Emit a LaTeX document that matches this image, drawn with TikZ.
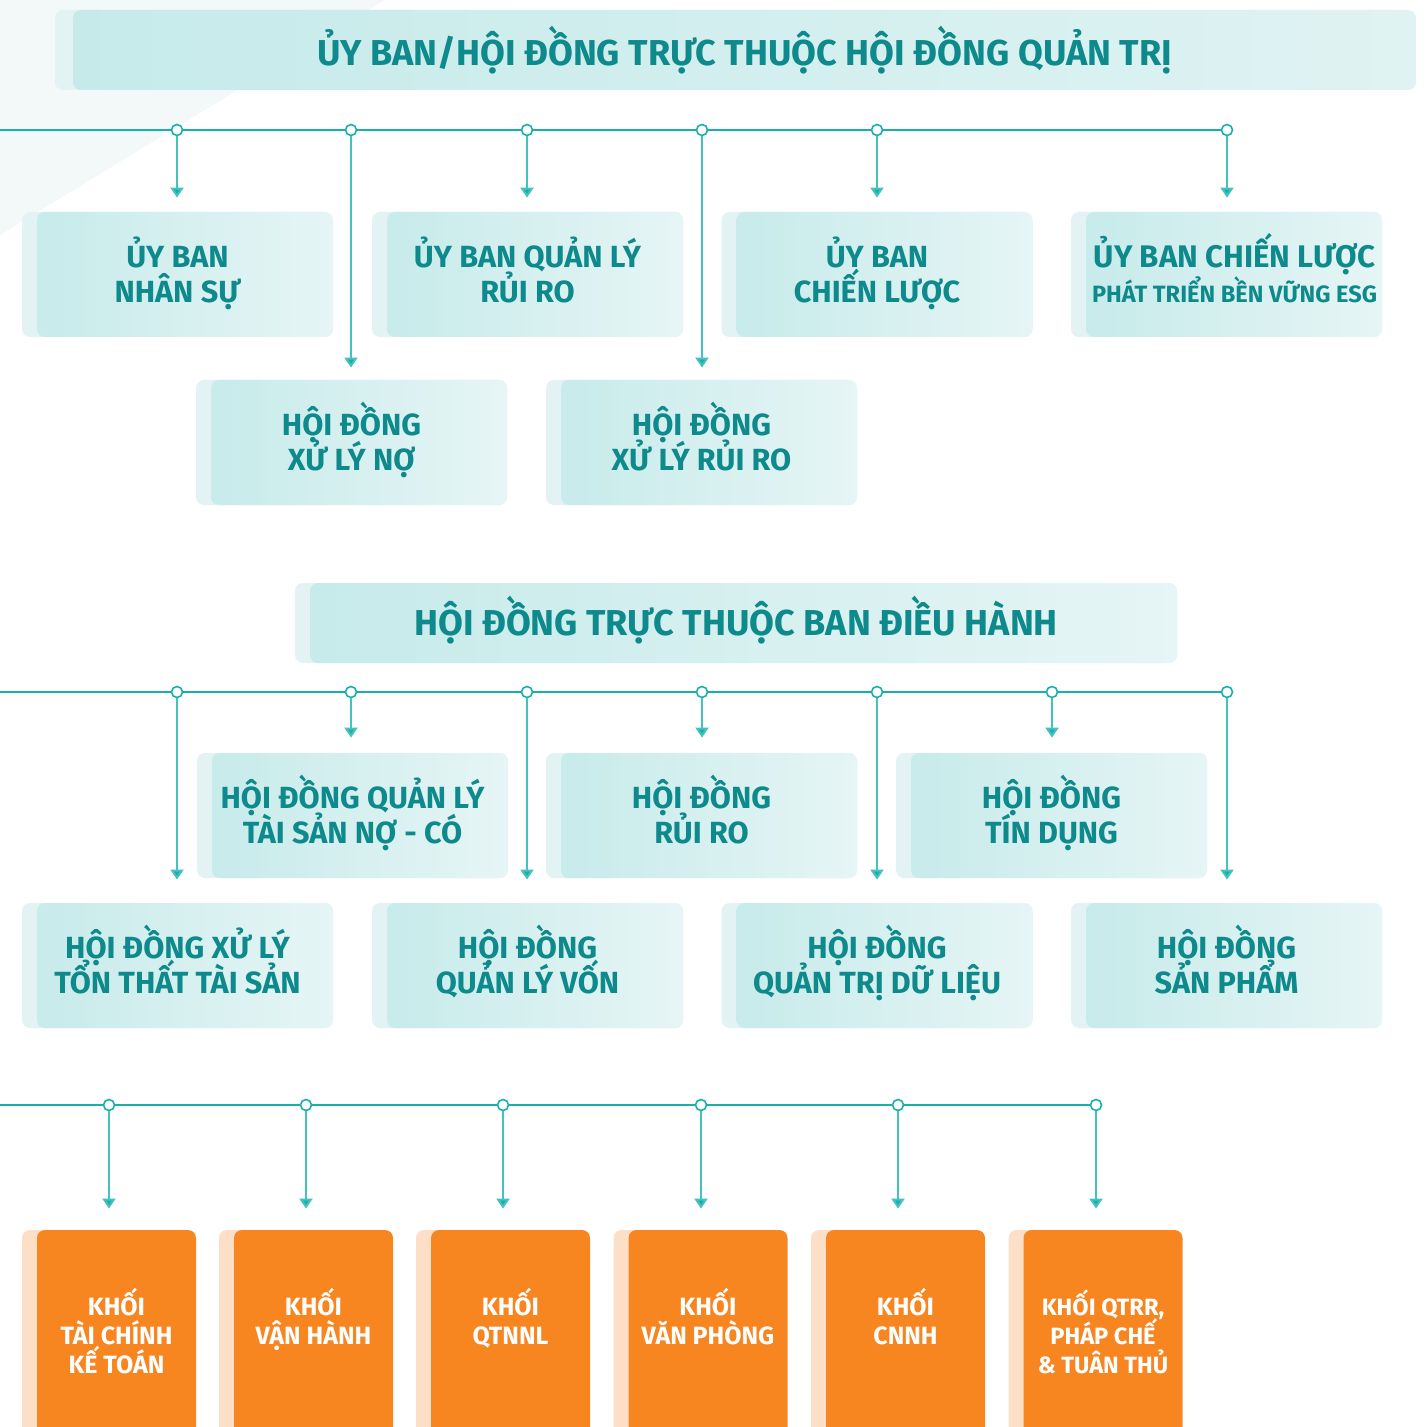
\documentclass[tikz,border=0pt]{standalone}
\usepackage{fontspec}
\setmainfont{Fira Sans}
\usepackage{tikz}
\usetikzlibrary{arrows.meta}
\definecolor{tealink}{HTML}{0E8A8C}
\definecolor{tealwire}{HTML}{19AFAB}
\definecolor{tealstem}{HTML}{45C2BE}
\definecolor{tealA}{HTML}{C6EAEA}
\definecolor{tealB}{HTML}{E6F5F5}
\definecolor{tealstrip}{HTML}{E3F3F3}
\definecolor{unitfill}{HTML}{F78520}
\definecolor{unitstrip}{HTML}{FDDFC7}
\definecolor{glow}{HTML}{F3F8F8}
\newcommand{\titlefont}{\bfseries\fontsize{18}{20}\selectfont}
\newcommand{\boardfont}{\bfseries\fontsize{15.3}{17.5}\selectfont\lineskiplimit=-20pt\relax}
\newcommand{\unitfont}{\bfseries\fontsize{12.5}{14.5}\selectfont\lineskiplimit=-20pt\relax}

\begin{document}
\begin{tikzpicture}[x=0.5pt,y=-0.5pt,>={Triangle[width=6pt,length=5pt]}]
		\tikzstyle{banner}=[rectangle,rounded corners=4pt,left color=tealA,right color=tealB!80!tealA,
			minimum width=671.5pt,minimum height=40pt,text=tealink,font=\titlefont,
			preaction={fill=tealstrip,transform canvas={xshift=-9pt}}];
		\tikzstyle{board}=[rectangle,rounded corners=4pt,fill=tealstrip,minimum width=155.5pt,
			minimum height=62.5pt,text=tealink,align=center,font=\boardfont,
			text height=28.5pt,text depth=0.5pt,
			path picture={\shade[left color=tealA,right color=tealB,rounded corners=4pt]
				([xshift=7.5pt]path picture bounding box.south west) rectangle (path picture bounding box.north east);}];
		\tikzstyle{unit}=[rectangle,rounded corners=4pt,fill=unitfill,minimum width=79.5pt,
			minimum height=103pt,text=white,align=center,font=\unitfont,
			text height=40pt,text depth=0pt,
			preaction={fill=unitstrip,transform canvas={xshift=-7.5pt}}];
		\tikzstyle{joint}=[circle,draw=tealwire,fill=white,line width=0.8pt,minimum size=5.5pt,inner sep=0pt];
		\tikzstyle{rail}=[draw=tealwire,line width=1pt];
		\tikzstyle{stem}=[draw=tealstem,line width=1pt,->,>={Triangle[width=6.5pt,length=5pt,fill=tealwire]}];
		\useasboundingbox(0,0)rectangle(1426,1427);
		\fill[glow](0,0)--(385,0)--(0,235)--cycle;

		\node[banner](t0)at(744.5,50){ỦY BAN/HỘI ĐỒNG TRỰC THUỘC HỘI ĐỒNG QUẢN TRỊ};

		\coordinate(s1)at(0,130);
		\node[joint](p11)at(177,130){};
		\node[joint](p12)at(351,130){};
		\node[joint](p13)at(527,130){};
		\node[joint](p14)at(702,130){};
		\node[joint](p15)at(877,130){};
		\node[joint](p16)at(1227,130){};
		\draw[rail](s1)--(p11)--(p12)--(p13)--(p14)--(p15)--(p16);

		\node[board](b11)at(177.5,274.5){ỦY BAN\\NHÂN SỰ};
		\node[board](b12)at(527.5,274.5){ỦY BAN QUẢN LÝ\\RỦI RO};
		\node[board](b13)at(877,274.5){ỦY BAN\\CHIẾN LƯỢC};
		\node[board,inner xsep=0pt](b14)at(1226.5,274.5){\fontsize{15.6}{17.7}\selectfont\hspace*{8pt}ỦY BAN CHIẾN LƯỢC\\
			\fontsize{11.8}{17.7}\selectfont\hspace*{8pt}PHÁT TRIỂN BỀN VỮNG ESG};
		\node[board](b21)at(351.5,442.5){HỘI ĐỒNG\\XỬ LÝ NỢ};
		\node[board](b22)at(701.5,442.5){HỘI ĐỒNG\\XỬ LÝ RỦI RO};

		\draw[stem,shorten >=7pt](p11)--(p11|-b11.north);
		\draw[stem,shorten >=6pt](p12)--(p12|-b21.north);
		\draw[stem,shorten >=7pt](p13)--(p13|-b12.north);
		\draw[stem,shorten >=6pt](p14)--(p14|-b22.north);
		\draw[stem,shorten >=7pt](p15)--(p15|-b13.north);
		\draw[stem,shorten >=7pt](p16)--(p16|-b14.north);

		\node[board,minimum width=441pt,minimum height=40pt,font=\titlefont,text height=12.4pt,text depth=0pt]
			(t1)at(736,623){HỘI ĐỒNG TRỰC THUỘC BAN ĐIỀU HÀNH};

		\coordinate(s2)at(0,692);
		\node[joint](p21)at(177,692){};
		\node[joint](p22)at(351,692){};
		\node[joint](p23)at(527,692){};
		\node[joint](p24)at(702,692){};
		\node[joint](p25)at(877,692){};
		\node[joint](p26)at(1052,692){};
		\node[joint](p27)at(1227,692){};
		\draw[rail](s2)--(p21)--(p22)--(p23)--(p24)--(p25)--(p26)--(p27);

		\node[board](b31)at(352.5,815.5){HỘI ĐỒNG QUẢN LÝ\\TÀI SẢN NỢ - CÓ};
		\node[board](b32)at(701.5,815.5){HỘI ĐỒNG\\RỦI RO};
		\node[board](b33)at(1051.5,815.5){HỘI ĐỒNG\\TÍN DỤNG};
		\node[board](b41)at(177.5,965.5){HỘI ĐỒNG XỬ LÝ\\TỔN THẤT TÀI SẢN};
		\node[board](b42)at(527.5,965.5){HỘI ĐỒNG\\QUẢN LÝ VỐN};
		\node[board](b43)at(877,965.5){HỘI ĐỒNG\\QUẢN TRỊ DỮ LIỆU};
		\node[board](b44)at(1226.5,965.5){HỘI ĐỒNG\\SẢN PHẨM};

		\draw[stem,shorten >=11.5pt](p21)--(p21|-b41.north);
		\draw[stem,shorten >=7.5pt](p22)--(p22|-b31.north);
		\draw[stem,shorten >=11.5pt](p23)--(p23|-b42.north);
		\draw[stem,shorten >=7.5pt](p24)--(p24|-b32.north);
		\draw[stem,shorten >=11.5pt](p25)--(p25|-b43.north);
		\draw[stem,shorten >=7.5pt](p26)--(p26|-b33.north);
		\draw[stem,shorten >=11.5pt](p27)--(p27|-b44.north);

		\coordinate(s3)at(0,1105);
		\node[joint](p31)at(109,1105){};
		\node[joint](p32)at(306,1105){};
		\node[joint](p33)at(503,1105){};
		\node[joint](p34)at(701,1105){};
		\node[joint](p35)at(898,1105){};
		\node[joint](p36)at(1096,1105){};
		\draw[rail](s3)--(p31)--(p32)--(p33)--(p34)--(p35)--(p36);

		\node[unit](u1)at(116.5,1333){KHỐI\\TÀI CHÍNH\\KẾ TOÁN};
		\node[unit](u2)at(313.5,1333){KHỐI\\VẬN HÀNH\\~};
		\node[unit](u3)at(510.5,1333){KHỐI\\QTNNL\\~};
		\node[unit](u4)at(708,1333){KHỐI\\VĂN PHÒNG\\~};
		\node[unit](u5)at(905.5,1333){KHỐI\\CNNH\\~};
		\node[unit,font=\unitfont\fontsize{11.8}{14.5}\selectfont](u6)at(1103,1333){KHỐI QTRR,\\PHÁP CHẾ\\\& TUÂN THỦ};

		\draw[stem,shorten >=10.5pt](p31)--(p31|-u1.north);
		\draw[stem,shorten >=10.5pt](p32)--(p32|-u2.north);
		\draw[stem,shorten >=10.5pt](p33)--(p33|-u3.north);
		\draw[stem,shorten >=10.5pt](p34)--(p34|-u4.north);
		\draw[stem,shorten >=10.5pt](p35)--(p35|-u5.north);
		\draw[stem,shorten >=10.5pt](p36)--(p36|-u6.north);
	\end{tikzpicture}
\end{document}
